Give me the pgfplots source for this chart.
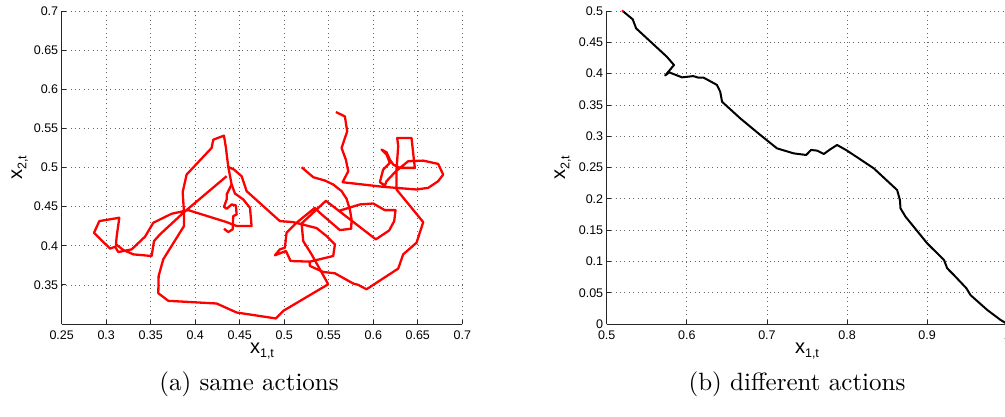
\documentclass[border=0pt]{standalone}
\usepackage{fontspec}
\usepackage{pgfplots}
\pgfplotsset{compat=1.18}
\newfontfamily\hv{Liberation Sans}
\newcommand{\lab}[1]{{\hv\fontsize{20}{20}\selectfont x\raisebox{-0.4ex}{\fontsize{12.5}{12.5}\selectfont #1,t}}}
\pgfplotsset{mystyle/.style={
  scale only axis, width=400.6pt, height=313pt,
  axis x line=bottom, axis y line=left,
  axis line style={-, line width=0.9pt, black!85},
  tick align=inside, major tick length=4pt,
  tick style={black!85, line width=0.8pt},
  grid=major,
  major grid style={black!60, line width=0.7pt, dash pattern=on 0.8pt off 3.6pt},
  tick label style={font=\hv\fontsize{12.5}{13}\selectfont},
  xticklabel style={yshift=-3pt},
  xlabel style={anchor=base, at={(axis description cs:0.5,-0.095)}},
  /pgf/number format/.cd, fixed, precision=2, assume math mode=true}}
\begin{document}
\begin{tikzpicture}
\useasboundingbox (0,0) rectangle (1005pt,416pt);
% ---------------- left panel
\begin{axis}[mystyle, at={(61.7pt,92pt)}, anchor=south west,
  xmin=0.25, xmax=0.7, ymin=0.3, ymax=0.7,
  xtick={0.25,0.3,...,0.71}, ytick={0.35,0.4,...,0.71},
  xlabel={\lab{1}}, ylabel={\lab{2}},
  ylabel style={anchor=base, at={(axis description cs:-0.099,0.5)}}]
\addplot[red, line width=2.3pt, line join=round] coordinates {
(0.5195,0.5003) (0.5326,0.4876) (0.5457,0.4833) (0.5550,0.4783) (0.5644,0.4698) (0.5700,0.4600) (0.5737,0.4464) (0.5756,0.4336) (0.5752,0.4218) (0.5625,0.4200) (0.5400,0.4421) (0.5344,0.4485) (0.5138,0.4294) (0.5026,0.4167) (0.5007,0.3975) (0.4951,0.3954) (0.4895,0.3878) (0.5019,0.3933) (0.5071,0.3805) (0.5288,0.3797) (0.5550,0.3869) (0.5569,0.4018) (0.5475,0.4124) (0.5363,0.4226) (0.5101,0.4302) (0.4951,0.4315) (0.4577,0.4698) (0.4521,0.4889) (0.4435,0.4974) (0.4371,0.5008) (0.4345,0.5250) (0.4323,0.5407) (0.4203,0.5356) (0.4184,0.5250) (0.3903,0.4910) (0.3859,0.4685) (0.3874,0.4421) (0.3874,0.4252) (0.3641,0.3827) (0.3589,0.3614) (0.3585,0.3393) (0.3698,0.3296) (0.4240,0.3262) (0.4465,0.3147) (0.4906,0.3071) (0.4989,0.3168) (0.5494,0.3508) (0.5307,0.3890) (0.5213,0.4060) (0.5195,0.4285) (0.5468,0.4574) (0.6029,0.4082) (0.6179,0.4196) (0.6235,0.4315) (0.6250,0.4455) (0.6130,0.4455) (0.5999,0.4540) (0.5850,0.4528) (0.5606,0.4443)
};
\addplot[red, line width=2.3pt, line join=round] coordinates {
(0.4353,0.4889) (0.3866,0.4421) (0.3604,0.4145) (0.3537,0.4060) (0.3510,0.3869) (0.3305,0.3890) (0.3192,0.3946) (0.3110,0.4018) (0.3118,0.4124) (0.3147,0.4358) (0.2923,0.4315) (0.2863,0.4167) (0.3043,0.3963) (0.3099,0.3988) (0.3136,0.3920) (0.3286,0.3954) (0.3436,0.4116) (0.3529,0.4294) (0.3735,0.4409) (0.3922,0.4455) (0.4353,0.4302) (0.4465,0.4252) (0.4633,0.4252) (0.4615,0.4485) (0.4540,0.4591) (0.4446,0.4668) (0.4409,0.4783) (0.4371,0.5008)
};
\addplot[red, line width=2.3pt, line join=round] coordinates {
(0.4409,0.4783) (0.4353,0.4655) (0.4353,0.4591) (0.4323,0.4498) (0.4353,0.4472) (0.4409,0.4528) (0.4457,0.4515) (0.4465,0.4400) (0.4427,0.4379) (0.4420,0.4209) (0.4371,0.4175) (0.4323,0.4218)
};
\addplot[red, line width=2.3pt, line join=round] coordinates {
(0.5288,0.3797) (0.5288,0.3742) (0.5438,0.3665) (0.5569,0.3648) (0.5775,0.3517) (0.5831,0.3500) (0.5924,0.3444) (0.6280,0.3708) (0.6336,0.3890) (0.6486,0.4039) (0.6561,0.4302) (0.6261,0.4719) (0.6261,0.4974) (0.6280,0.5271) (0.6269,0.5377) (0.6430,0.5377) (0.6448,0.5186) (0.6467,0.4995) (0.6299,0.4995) (0.6224,0.5037) (0.6186,0.5101) (0.6149,0.5195) (0.6093,0.5229) (0.6149,0.5165) (0.6186,0.5059) (0.6111,0.4974) (0.6074,0.4812) (0.6130,0.4770) (0.6149,0.4825) (0.6254,0.4952) (0.6392,0.5080) (0.6561,0.5088) (0.6729,0.5046) (0.6785,0.4910) (0.6729,0.4825) (0.6617,0.4740) (0.6486,0.4719) (0.6111,0.4753) (0.5655,0.4812) (0.5719,0.4952) (0.5692,0.5101) (0.5644,0.5250) (0.5707,0.5462) (0.5681,0.5653) (0.5580,0.5709)
};
\end{axis}
% ---------------- right panel
\begin{axis}[mystyle, at={(606.7pt,92pt)}, anchor=south west,
  xmin=0.5, xmax=1, ymin=0, ymax=0.5,
  xtick={0.5,0.6,...,1.01}, ytick={0,0.05,...,0.51},
  xlabel={\lab{1}}, ylabel={\lab{2}},
  ylabel style={anchor=base, at={(axis description cs:-0.104,0.5)}}]
\addplot[black, line width=2pt, line join=round] coordinates {
(0.52,0.5) (0.5325,0.4867) (0.5367,0.4723) (0.575,0.427) (0.584,0.4137) (0.573,0.397) (0.578,0.402) (0.594,0.394) (0.608,0.396) (0.6146,0.3935) (0.621,0.3935) (0.6375,0.382) (0.6417,0.371) (0.644,0.355) (0.6667,0.3285) (0.6917,0.302) (0.7125,0.2806) (0.7333,0.2726) (0.749,0.27) (0.755,0.278) (0.7625,0.277) (0.771,0.2716) (0.779,0.279) (0.7875,0.286) (0.8,0.277) (0.8333,0.2487) (0.8625,0.214) (0.866,0.198) (0.8667,0.1848) (0.8729,0.1715) (0.9,0.1289) (0.921,0.1022) (0.925,0.089) (0.9333,0.0783) (0.949,0.057) (0.954,0.0463) (0.975,0.0224) (0.9917,0.0064) (1.0,0.0)
};
\addplot[red, only marks, mark=*, mark size=1pt] coordinates {(0.52,0.5)};
\end{axis}
\node[anchor=base, scale=2.5] at (249pt,26pt) {\fontsize{10}{12}\selectfont (a)\ same actions};
\node[anchor=base, scale=2.5] at (797pt,26pt) {\fontsize{10}{12}\selectfont (b)\ different actions};
\end{tikzpicture}
\end{document}
